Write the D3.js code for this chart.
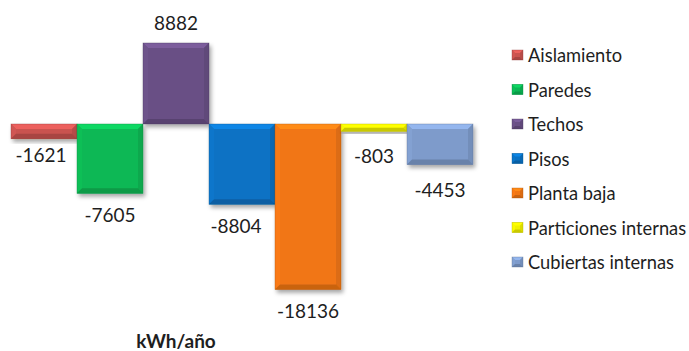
<!DOCTYPE html>
<html>
<head>
<meta charset="utf-8">
<script src="https://cdn.jsdelivr.net/npm/d3@7/dist/d3.min.js"></script>
<style>
  html, body { margin: 0; padding: 0; background: #ffffff; }
  svg { display: block; }
  text { font-family: Lato, "Open Sans", sans-serif; fill: #1e1e1e; }
</style>
</head>
<body>
<svg id="chart" width="689" height="351"></svg>
<script>
// Energy balance per building component (kWh/año)
const categories = ["Aislamiento", "Paredes", "Techos", "Pisos", "Planta baja", "Particiones internas", "Cubiertas internas"];
const values = [-1621, -7605, 8882, -8804, -18136, -803, -4453];
const colors = ["#c9534f", "#0bb854", "#694f85", "#0a72c4", "#f17614", "#f0f000", "#7e9bcb"];
const axisTitle = "kWh/año";

const svg = d3.select("#chart");

const x = d3.scaleBand().domain(categories).range([11, 473]).padding(0);
const y = d3.scaleLinear().domain([-20000, 10000]).range([306.4, 32.8]);

const defs = svg.append("defs");
const shadow = defs.append("filter").attr("id", "shadow")
  .attr("x", "-20%").attr("y", "-20%").attr("width", "150%").attr("height", "150%");
shadow.append("feDropShadow")
  .attr("dx", 2).attr("dy", 3).attr("stdDeviation", 2)
  .attr("flood-color", "#000").attr("flood-opacity", 0.35);

// Beveled box: flat face with lighter top edge and darker sides / bottom
function bevelBox(g, x0, y0, x1, y1, color, b) {
  const c = d3.color(color);
  b = Math.min(b, (y1 - y0) / 2, (x1 - x0) / 2);
  g.append("rect").attr("x", x0).attr("y", y0).attr("width", x1 - x0).attr("height", y1 - y0)
    .attr("fill", c.formatHex());
  const face = (pts, fill) => g.append("polygon")
    .attr("points", pts.map(p => p.join(",")).join(" ")).attr("fill", fill);
  face([[x0, y0], [x1, y0], [x1 - b, y0 + b], [x0 + b, y0 + b]], c.brighter(0.45).formatHex());
  face([[x0, y0], [x0 + b, y0 + b], [x0 + b, y1 - b], [x0, y1]], c.brighter(0.1).formatHex());
  face([[x1, y0], [x1, y1], [x1 - b, y1 - b], [x1 - b, y0 + b]], c.darker(0.25).formatHex());
  face([[x0, y1], [x0 + b, y1 - b], [x1 - b, y1 - b], [x1, y1]], c.darker(0.5).formatHex());
  g.append("rect").attr("x", x0).attr("y", y0).attr("width", x1 - x0).attr("height", y1 - y0)
    .attr("fill", "none").attr("stroke", c.darker(0.9).formatHex()).attr("stroke-width", 0.6)
    .attr("stroke-opacity", 0.6);
}

const bars = svg.append("g");
categories.forEach((cat, i) => {
  const v = values[i];
  const g = bars.append("g").attr("filter", "url(#shadow)");
  const top = y(Math.max(0, v)), bottom = y(Math.min(0, v));
  bevelBox(g, x(cat), top, x(cat) + x.bandwidth(), bottom, colors[i], 5);
});

// Value labels outside each bar end
const nudge = { "Aislamiento": [-3, -5], "Pisos": [-6, 0], "Particiones internas": [0, 3], "Cubiertas internas": [0, 4] };
svg.append("g").selectAll("text").data(categories).join("text")
  .attr("x", (d) => x(d) + x.bandwidth() / 2 + (nudge[d] ? nudge[d][0] : 0))
  .attr("y", (d, i) => (values[i] >= 0 ? y(values[i]) - 20 : y(values[i]) + 21) + (nudge[d] ? nudge[d][1] : 0))
  .attr("text-anchor", "middle").attr("dominant-baseline", "central")
  .attr("font-size", 19)
  .text((d, i) => values[i]);

// Axis title
svg.append("text").attr("x", 176).attr("y", 340)
  .attr("text-anchor", "middle").attr("dominant-baseline", "central")
  .attr("font-size", 19).attr("font-weight", "bold")
  .text(axisTitle);

// Legend
const legend = svg.append("g").attr("transform", "translate(512,55)");
const rowH = 34.5;
categories.forEach((cat, i) => {
  const row = legend.append("g").attr("transform", `translate(0,${i * rowH})`);
  bevelBox(row, 0, -5, 11, 5, colors[i], 3);
  row.append("text").attr("x", 16).attr("y", 0)
    .attr("dominant-baseline", "central").attr("font-size", 18.3)
    .text(cat);
});
</script>
</body>
</html>
